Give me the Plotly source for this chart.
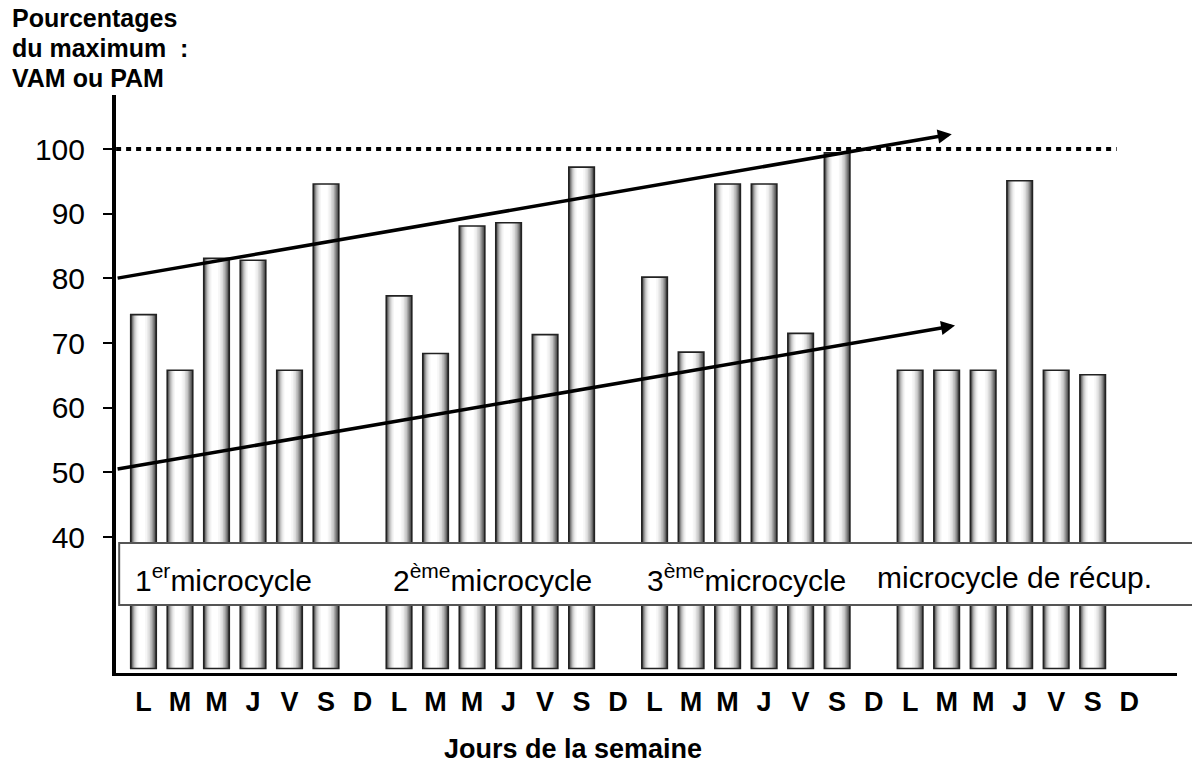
import plotly.graph_objects as go

# Days of the four training weeks (Sunday = rest, no session)
days = ["L", "M", "M", "J", "V", "S", "D"] * 4

# Intensity of each session, % of maximum (VAM or PAM); None = rest day
intensity = [
    74.4, 65.8, 83.1, 82.8, 65.8, 94.6, None,   # 1er microcycle
    77.3, 68.4, 88.1, 88.6, 71.3, 97.2, None,   # 2ème microcycle
    80.2, 68.6, 94.6, 94.6, 71.5, 99.4, None,   # 3ème microcycle
    65.8, 65.8, 65.8, 95.1, 65.8, 65.1, None,   # microcycle de récupération
]

y_ticks = [40, 50, 60, 70, 80, 90, 100]
max_level = 100

# Progression trend lines: (x tail, y tail, x head, y head)
trend_upper = (-0.75, 80.0, 22.14, 102.3)
trend_lower = (-0.75, 50.5, 22.23, 72.7)

cycle_labels = [
    ("1<sup>er</sup>microcycle", 0.016),
    ("2<sup>ème</sup>microcycle", 0.259),
    ("3<sup>ème</sup>microcycle", 0.499),
    ("microcycle de récup.", 0.715),
]

y_title_lines = ["Pourcentages", "du maximum  :", "VAM ou PAM"]

FONT = "Arial, Liberation Sans, sans-serif"
BASE = 19.7
BAR_W = 0.70

x_idx = list(range(len(days)))
bar_x = [i for i, v in zip(x_idx, intensity) if v is not None]
bar_len = [v - BASE for v in intensity if v is not None]

fig = go.Figure()

# Cylinder-like shading: stacked overlay bars, narrowing toward a light core
shades = [
    (1.00, "#464646"), (0.92, "#666666"), (0.84, "#888888"), (0.76, "#a8a8a8"),
    (0.68, "#c4c4c4"), (0.58, "#dadada"), (0.48, "#ebebeb"), (0.38, "#f6f6f6"),
    (0.26, "#ffffff"),
]
shift = -0.06
for frac, col in shades:
    w = BAR_W * frac
    centre = shift * (1 - frac)
    fig.add_trace(go.Bar(
        x=bar_x, y=bar_len, base=BASE, width=w, offset=centre - w / 2,
        marker=dict(color=col, line=dict(width=0)),
        hoverinfo="skip", showlegend=False,
    ))

# Bar outlines
fig.add_trace(go.Bar(
    x=bar_x, y=bar_len, base=BASE, width=BAR_W, offset=-BAR_W / 2,
    marker=dict(color="rgba(0,0,0,0)", line=dict(color="#222222", width=1.6)),
    hoverinfo="skip", showlegend=False,
))

# Dotted 100 % line
fig.add_trace(go.Scatter(
    x=[-0.75, 26.66], y=[max_level, max_level], mode="lines",
    line=dict(color="black", width=4, dash="5px,5px"),
    hoverinfo="skip", showlegend=False,
))

# Trend arrows
for x0, y0, x1, y1 in (trend_upper, trend_lower):
    fig.add_annotation(
        x=x1, y=y1, ax=x0, ay=y0, xref="x", yref="y", axref="x", ayref="y",
        text="", showarrow=True, arrowhead=2, arrowsize=0.8, arrowwidth=3.5,
        arrowcolor="black", standoff=0,
    )

# White band carrying the microcycle names
fig.add_shape(
    type="rect", xref="paper", yref="paper", x0=0.003, x1=1.02, y0=0.1176, y1=0.2249,
    fillcolor="white", line=dict(color="#555555", width=2), layer="above",
)
for text, xp in cycle_labels:
    fig.add_annotation(
        x=xp, y=0.165, xref="paper", yref="paper", text=text, showarrow=False,
        xanchor="left", yanchor="middle", font=dict(family=FONT, size=30, color="black"),
    )

# Y-axis title, one line per row
for line, yp in zip(y_title_lines, [1.1332, 1.0813, 1.0294]):
    fig.add_annotation(
        x=-0.1, y=yp, xref="paper", yref="paper", xanchor="left", yanchor="middle",
        showarrow=False, text=line,
        font=dict(family=FONT, size=25, color="black", weight="bold"),
    )

# X-axis title
fig.add_annotation(
    x=0.4307, y=-0.1315, xref="paper", yref="paper", xanchor="center", yanchor="middle",
    showarrow=False, text="Jours de la semaine",
    font=dict(family=FONT, size=27, color="black", weight="bold"),
)

fig.update_layout(
    width=1192, height=766,
    margin=dict(l=116, r=15, t=95, b=93),
    paper_bgcolor="white", plot_bgcolor="white",
    barmode="overlay", showlegend=False,
    font=dict(family=FONT, color="black"),
)
fig.update_xaxes(
    range=[-0.753, 28.31], tickmode="array", tickvals=x_idx, ticktext=days,
    tickfont=dict(family=FONT, size=27, color="black", weight="bold"),
    showline=True, linecolor="black", linewidth=3, ticks="",
    showgrid=False, zeroline=False, ticklabelstandoff=3,
)
fig.update_yaxes(
    range=[19, 108.35], tickmode="array", tickvals=y_ticks,
    tickfont=dict(family=FONT, size=30, color="black"),
    showline=True, linecolor="black", linewidth=4,
    ticks="outside", ticklen=9, tickwidth=2, tickcolor="black",
    showgrid=False, zeroline=False, ticklabelstandoff=12,
)

fig.write_html("out.html")
